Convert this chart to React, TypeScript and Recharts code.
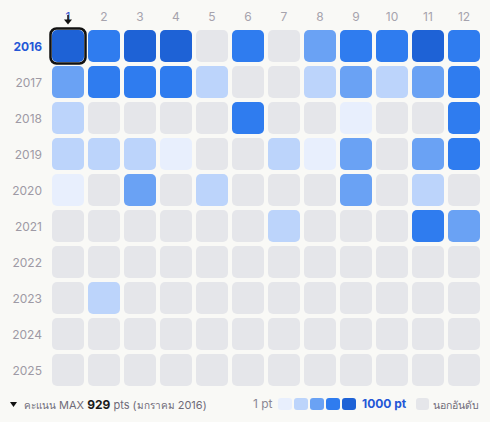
import { ScatterChart, Scatter, XAxis, YAxis } from 'recharts';

// monthly rank bucket per year: 0 = out of ranking, 1..5 = 1 pt .. 1000 pt
const months = [1, 2, 3, 4, 5, 6, 7, 8, 9, 10, 11, 12];
const years = [2016, 2017, 2018, 2019, 2020, 2021, 2022, 2023, 2024, 2025];

const y2016 = [5, 4, 5, 5, 0, 4, 0, 3, 4, 4, 5, 4];
const y2017 = [3, 4, 4, 4, 2, 0, 0, 2, 3, 2, 3, 4];
const y2018 = [2, 0, 0, 0, 0, 4, 0, 0, 1, 0, 0, 4];
const y2019 = [2, 2, 2, 1, 0, 0, 2, 1, 3, 0, 3, 4];
const y2020 = [1, 0, 3, 0, 2, 0, 0, 0, 3, 0, 2, 0];
const y2021 = [0, 0, 0, 0, 0, 0, 2, 0, 0, 0, 4, 3];
const y2022 = [0, 0, 0, 0, 0, 0, 0, 0, 0, 0, 0, 0];
const y2023 = [0, 2, 0, 0, 0, 0, 0, 0, 0, 0, 0, 0];
const y2024 = [0, 0, 0, 0, 0, 0, 0, 0, 0, 0, 0, 0];
const y2025 = [0, 0, 0, 0, 0, 0, 0, 0, 0, 0, 0, 0];

const rows = [y2016, y2017, y2018, y2019, y2020, y2021, y2022, y2023, y2024, y2025];

const maxYear = 2016;
const maxMonth = 1;

const levelColors = ['#e5e6ea', '#e8effd', '#bcd4fb', '#6aa2f4', '#2f7cef', '#1e62d6'];
const accent = '#2457d6';

const cells = rows.flatMap((row, i) =>
  row.map((level, j) => ({ month: months[j], year: years[i], level }))
);

const CellShape = (props: any) => {
  const { cx, cy, payload } = props;
  const fill = levelColors[payload.level];
  const selected = payload.year === maxYear && payload.month === maxMonth;
  return (
    <g>
      <rect x={cx - 16} y={cy - 16} width={32} height={32} rx={5} fill={fill} />
      {selected && (
        <rect x={cx - 17.5} y={cy - 17.5} width={35} height={35} rx={6} fill="none" stroke="#111" strokeWidth={2.5} />
      )}
    </g>
  );
};

// header labels sit on a fixed baseline above the grid
const MonthTick = ({ x, payload }: any) => {
  const on = payload.value === maxMonth;
  return (
    <g>
      <text x={x} y={20.5} textAnchor="middle" fontSize={12} fill={on ? '#3b56d0' : '#a6a3ad'}>
        {payload.value}
      </text>
      {on && (
        <g>
          <line x1={x} y1={15} x2={x} y2={20} stroke="#111" strokeWidth={1.5} />
          <path d={`M${x - 4},19.5 L${x + 4},19.5 L${x},24.5 Z`} fill="#111" />
        </g>
      )}
    </g>
  );
};

const YearTick = ({ x, y, payload }: any) => {
  const on = payload.value === maxYear;
  return (
    <text x={x} y={y} textAnchor="end" dominantBaseline="central" fontSize={12}
      fontWeight={on ? 700 : 400} fill={on ? accent : '#9e9aa5'}>
      {payload.value}
    </text>
  );
};

export default function App() {
  return (
    <div style={{ position: 'fixed', left: 0, top: 0, width: 490, height: 422, background: '#f9f9f6', fontFamily: 'Inter, "Noto Sans", sans-serif' }}>
      <ScatterChart width={490} height={422} margin={{ top: 0, right: 8, bottom: 34, left: 0 }}>
        <XAxis
          type="number"
          dataKey="month"
          orientation="top"
          domain={[0.5, 12.5]}
          ticks={months}
          height={28}
          axisLine={false}
          tickLine={false}
          tickSize={0}
          tickMargin={8}
          tick={<MonthTick />}
          interval={0}
        />
        <YAxis
          type="number"
          dataKey="year"
          domain={[2015.5, 2025.5]}
          reversed
          ticks={years}
          width={50}
          axisLine={false}
          tickLine={false}
          tickSize={0}
          tickMargin={8}
          tick={<YearTick />}
          interval={0}
        />
        <Scatter data={cells} shape={<CellShape />} isAnimationActive={false} />
      </ScatterChart>
      <div style={{ position: 'absolute', left: 0, top: 396, width: 490, height: 18, fontSize: 11, color: '#6f6b78' }}>
        <svg style={{ position: 'absolute', left: 10, top: 6 }} width={7} height={5}>
          <path d="M0,0 L7,0 L3.5,5 Z" fill="#111" />
        </svg>
        <span style={{ position: 'absolute', left: 24, top: 1, whiteSpace: 'nowrap' }}>
          <span style={{ fontSize: 10 }}>คะแนน</span> MAX <b style={{ color: '#1a1a1a', fontSize: 12 }}>929</b> pts (<span style={{ fontSize: 10 }}>มกราคม</span> 2016)
        </span>
        <span style={{ position: 'absolute', left: 253, top: 0, color: '#8a8794', fontSize: 12 }}>1 pt</span>
        {[1, 2, 3, 4, 5].map((l, i) => (
          <div key={l} style={{ position: 'absolute', left: 278 + i * 16, top: 2, width: 14, height: 12, borderRadius: 3, background: levelColors[l] }} />
        ))}
        <span style={{ position: 'absolute', left: 362, top: 0, color: accent, fontWeight: 700, fontSize: 12 }}>1000 pt</span>
        <div style={{ position: 'absolute', left: 416, top: 2, width: 13, height: 12, borderRadius: 3, background: levelColors[0] }} />
        <span style={{ position: 'absolute', left: 433, top: 1, whiteSpace: 'nowrap', fontSize: 10.5 }}>นอกอันดับ</span>
      </div>
    </div>
  );
}
